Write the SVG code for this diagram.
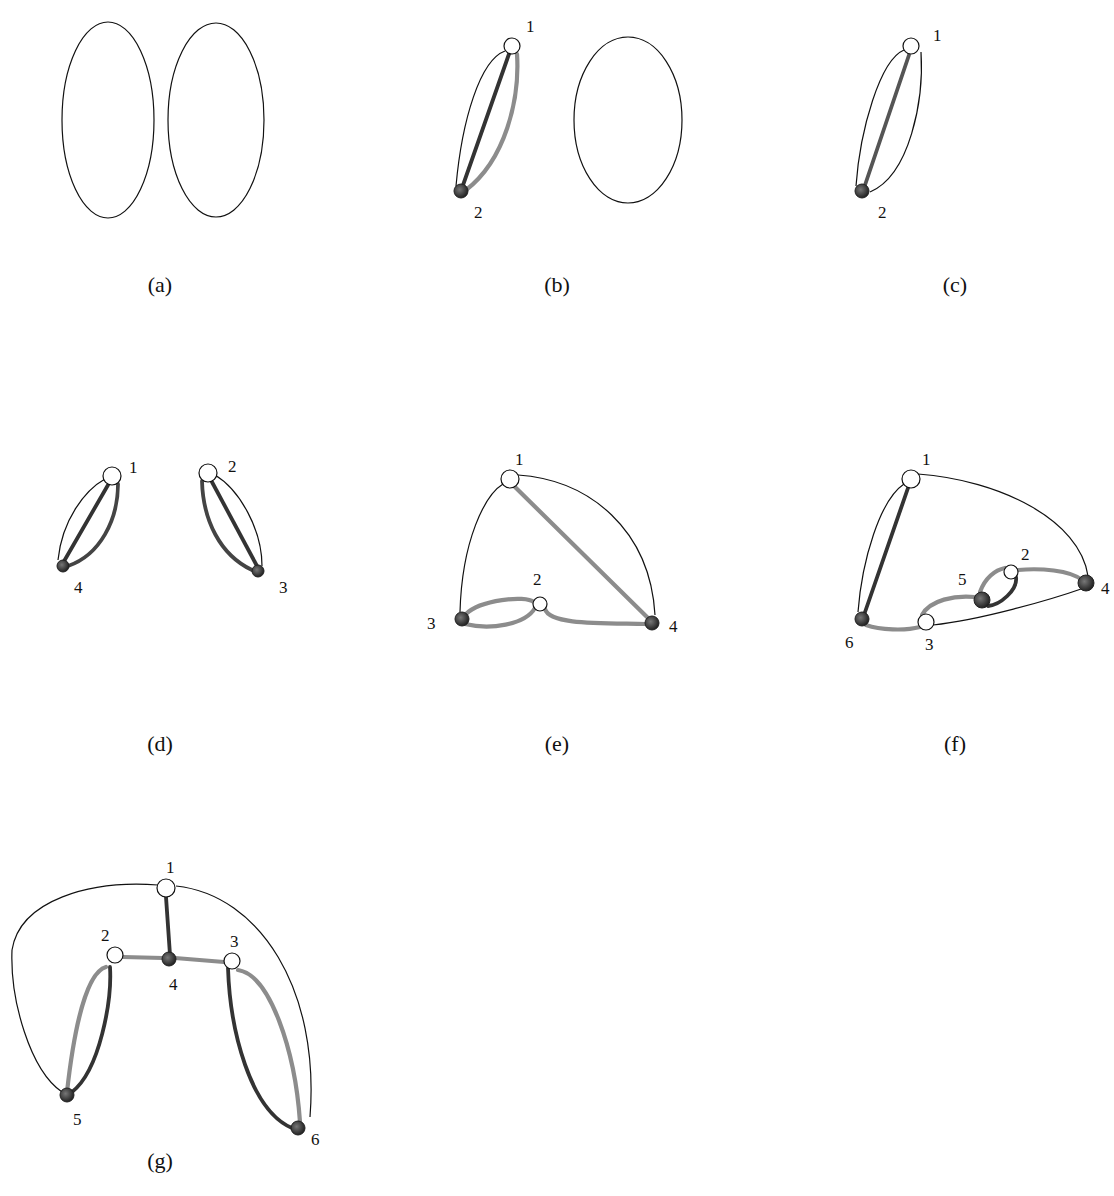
<svg xmlns="http://www.w3.org/2000/svg" width="1114" height="1196" viewBox="0 0 1114 1196">
<defs>
<radialGradient id="dg" cx="0.4" cy="0.4" r="0.6">
<stop offset="0" stop-color="#777"/><stop offset="1" stop-color="#222"/>
</radialGradient>
<style>
.thin{fill:none;stroke:#111;stroke-width:1.2}
.dark{fill:none;stroke:#333;stroke-width:3.8;stroke-linecap:round}
.grey{fill:none;stroke:#8c8c8c;stroke-width:4.2;stroke-linecap:round}
.open{fill:#fff;stroke:#111;stroke-width:1.2}
.full{fill:url(#dg);stroke:#222;stroke-width:1}
.num{font-family:"Liberation Serif",serif;font-size:17px;fill:#111}
.cap{font-family:"Liberation Serif",serif;font-size:22px;fill:#111;text-anchor:middle}
</style>
</defs>
<rect width="1114" height="1196" fill="#fff"/>
<g id="connectors">
<!-- a -->
<ellipse class="thin" cx="108" cy="120" rx="46" ry="98"/>
<ellipse class="thin" cx="216" cy="120" rx="48" ry="97"/>
<!-- b -->
<path class="thin" d="M505,51 C480,60 462,120 456,186"/>
<path class="dark" d="M509,54 L462,188"/>
<path class="grey" d="M517,54 C520,100 505,160 466,190"/>
<ellipse class="thin" cx="628" cy="120" rx="54" ry="83"/>
<!-- c -->
<path class="thin" d="M904,50 C880,60 860,130 856,186"/>
<path class="thin" d="M921,52 C924,100 910,175 870,192"/>
<path class="dark" d="M909,55 L864,188" style="stroke:#555"/>
<!-- d -->
<path class="thin" d="M105,479 C85,490 62,520 58,560"/>
<path class="dark" d="M108,485 L63,563"/>
<path class="dark" d="M118,484 C118,520 100,555 68,566" style="stroke:#444"/>
<path class="thin" d="M215,475 C240,490 262,530 262,566"/>
<path class="dark" d="M202,481 C203,520 220,555 252,570" style="stroke:#444"/>
<path class="dark" d="M212,482 L257,566"/>
<!-- e -->
<path class="thin" d="M503,484 C485,495 462,540 460,612"/>
<path class="thin" d="M518,475 C590,480 650,530 655,615"/>
<path class="grey" d="M515,487 L648,618"/>
<path class="grey" d="M466,614 C480,600 525,595 534,602"/>
<path class="grey" d="M465,624 C490,630 525,625 535,608"/>
<path class="grey" d="M545,609 C550,625 600,623 646,624"/>
<!-- f -->
<path class="thin" d="M904,484 C880,500 862,560 858,612"/>
<path class="dark" d="M908,488 L864,615"/>
<path class="thin" d="M918,474 C1000,480 1080,520 1088,576"/>
<path class="grey" d="M866,625 C880,630 905,631 920,627"/>
<path class="thin" d="M933,625 C980,620 1050,600 1084,588"/>
<path class="grey" d="M922,615 C930,600 955,595 975,597"/>
<path class="grey" d="M980,592 C985,578 995,570 1005,568"/>
<path class="dark" d="M1016,577 C1018,590 1000,605 988,606"/>
<path class="grey" d="M1018,570 C1040,568 1070,570 1082,580"/>
<!-- g -->
<path class="thin" d="M158,885 C90,880 20,900 12,950 C10,1000 30,1070 62,1092"/>
<path class="thin" d="M176,886 C260,895 320,990 310,1117"/>
<path class="dark" d="M166,897 L170,955"/>
<path class="grey" d="M123,957 L163,958"/>
<path class="grey" d="M175,958 L224,962"/>
<path class="grey" d="M106,967 C88,972 75,1020 67,1092"/>
<path class="dark" d="M110,967 C112,1000 100,1070 72,1092"/>
<path class="dark" d="M228,968 C230,1030 250,1110 292,1128"/>
<path class="grey" d="M238,970 C270,975 295,1050 300,1122"/>
</g>
<!-- nodes b -->
<g id="b1"><circle class="open" cx="512" cy="46" r="8"/><text class="num" x="526" y="32">1</text></g>
<g id="b2"><circle class="full" cx="461" cy="191" r="7"/><text class="num" x="474" y="218">2</text></g>
<!-- nodes c -->
<g id="c1"><circle class="open" cx="911" cy="46" r="8"/><text class="num" x="933" y="41">1</text></g>
<g id="c2"><circle class="full" cx="862" cy="191" r="7"/><text class="num" x="878" y="218">2</text></g>
<!-- nodes d -->
<g id="d1"><circle class="open" cx="112" cy="476" r="9"/><text class="num" x="129" y="473">1</text></g>
<g id="d4"><circle class="full" cx="63" cy="566" r="6"/><text class="num" x="74" y="593">4</text></g>
<g id="d2"><circle class="open" cx="208" cy="473" r="9"/><text class="num" x="228" y="472">2</text></g>
<g id="d3"><circle class="full" cx="258" cy="571" r="6"/><text class="num" x="279" y="593">3</text></g>
<!-- nodes e -->
<g id="e1"><circle class="open" cx="510" cy="479" r="9"/><text class="num" x="515" y="465">1</text></g>
<g id="e3"><circle class="full" cx="462" cy="619" r="7"/><text class="num" x="427" y="629">3</text></g>
<g id="e2"><circle class="open" cx="540" cy="604" r="7"/><text class="num" x="533" y="585">2</text></g>
<g id="e4"><circle class="full" cx="652" cy="623" r="7"/><text class="num" x="669" y="632">4</text></g>
<!-- nodes f -->
<g id="f1"><circle class="open" cx="911" cy="479" r="9"/><text class="num" x="922" y="465">1</text></g>
<g id="f6"><circle class="full" cx="862" cy="619" r="7"/><text class="num" x="845" y="648">6</text></g>
<g id="f3"><circle class="open" cx="926" cy="622" r="8"/><text class="num" x="925" y="650">3</text></g>
<g id="f5"><circle class="full" cx="982" cy="600" r="8"/><text class="num" x="958" y="585">5</text></g>
<g id="f2"><circle class="open" cx="1011" cy="572" r="7"/><text class="num" x="1021" y="560">2</text></g>
<g id="f4"><circle class="full" cx="1086" cy="583" r="8"/><text class="num" x="1101" y="594">4</text></g>
<!-- nodes g -->
<g id="g1"><circle class="open" cx="166" cy="888" r="9"/><text class="num" x="166" y="873">1</text></g>
<g id="g2"><circle class="open" cx="115" cy="955" r="8"/><text class="num" x="101" y="941">2</text></g>
<g id="g4"><circle class="full" cx="169" cy="959" r="7"/><text class="num" x="169" y="990">4</text></g>
<g id="g3"><circle class="open" cx="232" cy="961" r="8"/><text class="num" x="230" y="947">3</text></g>
<g id="g5"><circle class="full" cx="67" cy="1095" r="7"/><text class="num" x="73" y="1125">5</text></g>
<g id="g6"><circle class="full" cx="298" cy="1128" r="7"/><text class="num" x="311" y="1145">6</text></g>
<!-- captions -->
<text class="cap" x="160" y="292">(a)</text>
<text class="cap" x="557" y="292">(b)</text>
<text class="cap" x="955" y="292">(c)</text>
<text class="cap" x="160" y="751">(d)</text>
<text class="cap" x="557" y="751">(e)</text>
<text class="cap" x="955" y="751">(f)</text>
<text class="cap" x="160" y="1168">(g)</text>
</svg>
